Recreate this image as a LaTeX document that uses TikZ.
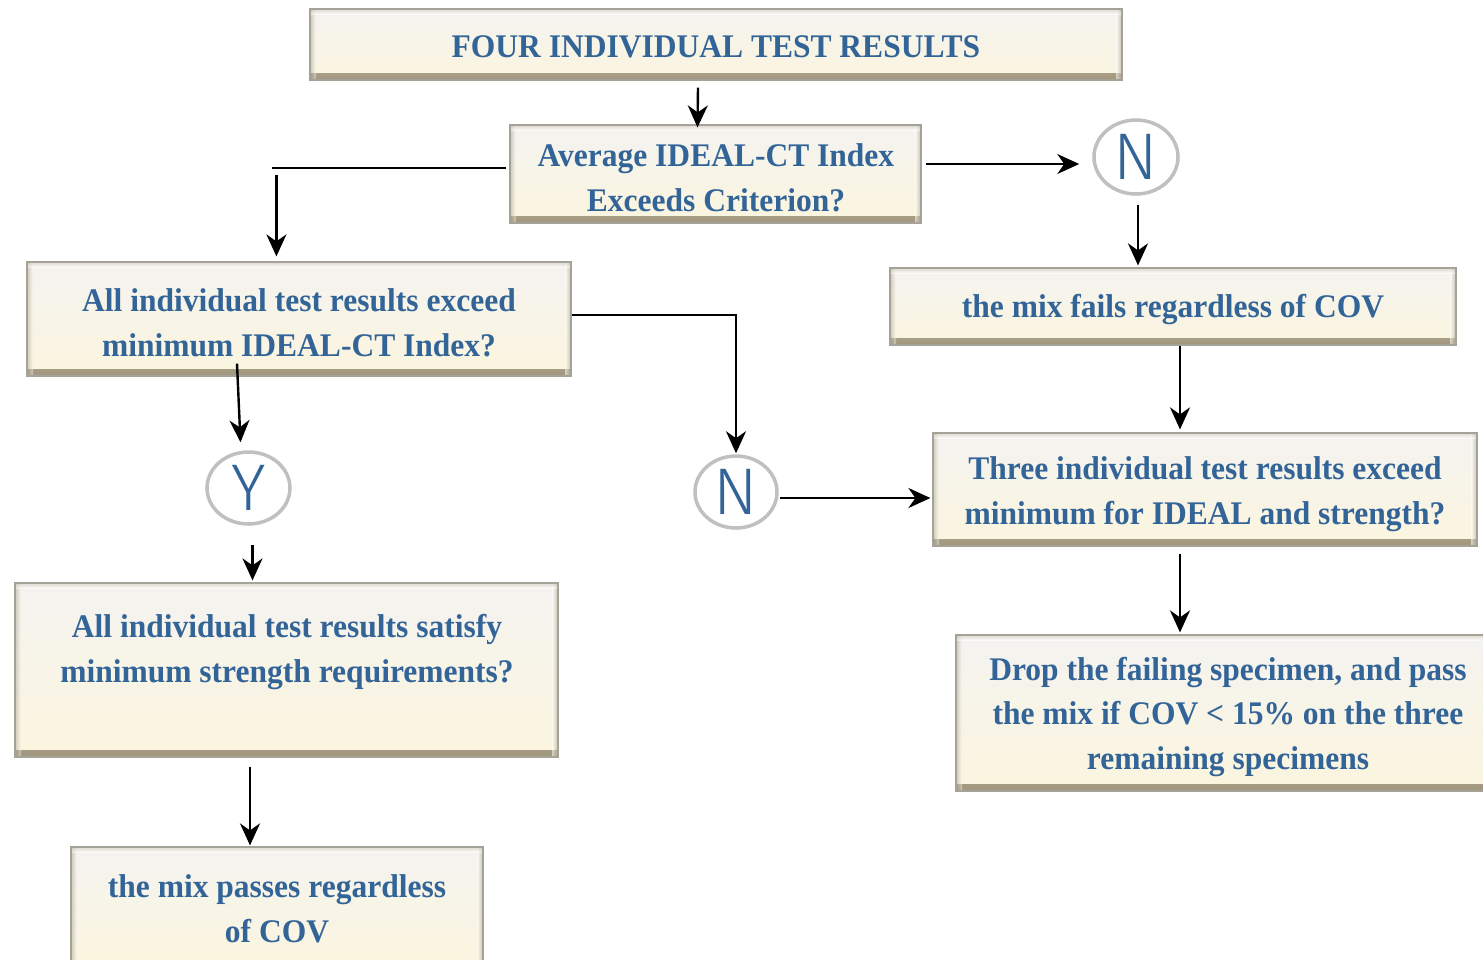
\documentclass[tikz,border=0pt]{standalone}
\usepackage{fontspec}
\setmainfont[FakeStretch=0.955]{Liberation Serif}
\newfontfamily\circfont{Fira Sans Light}
\usetikzlibrary{shapes.geometric,arrows.meta,calc}
\definecolor{txtblue}{RGB}{50,100,152}
\definecolor{cream}{RGB}{251,245,222}
\definecolor{topgray}{RGB}{244,243,240}
\definecolor{bevel}{RGB}{160,150,125}
\definecolor{edge}{RGB}{165,162,152}
\definecolor{ringgray}{RGB}{192,192,192}
\tikzset{
  boxtext/.style={align=center, text=txtblue, font=\bfseries\fontsize{33}{44.5}\selectfont, inner sep=0pt},
  box/.style={rectangle, draw=edge, line width=1.2pt, top color=topgray, bottom color=cream, inner sep=0pt,
    path picture={
      \shade[top color=cream, bottom color=bevel] ([yshift=7pt]path picture bounding box.south west) rectangle (path picture bounding box.south east);
      \shade[left color=white, right color=bevel, opacity=0.55] ([xshift=-6pt]path picture bounding box.north east) rectangle (path picture bounding box.south east);
      \shade[left color=bevel, right color=white, opacity=0.45] (path picture bounding box.north west) rectangle ([xshift=6pt]path picture bounding box.south west);
      \shade[top color=bevel!60, bottom color=white, opacity=0.5] (path picture bounding box.north west) rectangle ([yshift=-5pt]path picture bounding box.north east);
    }},
  ring/.style={ellipse, draw=ringgray, line width=3.5pt, fill=white, inner sep=0pt, text=txtblue,
    font=\circfont\fontsize{66}{66}\selectfont},
  conn/.style={line width=2.4pt, black},
  arr/.style={conn, -{Stealth[length=22pt,width=20pt,inset=7pt]}}
}
\begin{document}
\begin{tikzpicture}[x=1pt,y=-1pt]
\useasboundingbox (0,0) rectangle (1483,959);
\clip (0,0) rectangle (1483,959);
\fill[white] (0,0) rectangle (1483,959);

\node[box, minimum width=812pt, minimum height=71pt] (top) at (716,44.5) {};
\node[boxtext] (ttop) at (716,47) {FOUR INDIVIDUAL TEST RESULTS};
\node[box, minimum width=411pt, minimum height=98pt] (avg) at (715.5,174) {};
\node[boxtext] (tavg) at (716,178) {Average IDEAL-CT Index\\Exceeds Criterion?};
\node[box, minimum width=544pt, minimum height=114pt] (allexc) at (299,319) {};
\node[boxtext] (tallexc) at (299,323) {All individual test results exceed\\minimum IDEAL-CT Index?};
\node[ring, minimum width=84pt, minimum height=74pt] (n1) at (1136,157) {N};
\node[box, minimum width=566pt, minimum height=77pt] (fails) at (1173,306.5) {};
\node[boxtext] (tfails) at (1173,310) {the mix fails regardless of COV};
\node[box, minimum width=544pt, minimum height=113pt] (three) at (1205,489.5) {};
\node[boxtext] (tthree) at (1205,494) {Three individual test results exceed\\minimum for IDEAL and strength?};
\node[box, minimum width=544pt, minimum height=156pt] (drop) at (1228,713) {};
\node[boxtext] (tdrop) at (1228,717) {Drop the failing specimen, and pass\\the mix if COV < 15\% on the three\\remaining specimens};
\node[ring, minimum width=83pt, minimum height=72pt] (y1) at (248.5,488) {Y};
\node[ring, minimum width=82pt, minimum height=72pt] (n2) at (736,492) {N};
\node[box, minimum width=543pt, minimum height=174pt] (sat) at (286.5,670) {};
\node[boxtext] (tsat) at (287,652) {All individual test results satisfy\\minimum strength requirements?};
\node[box, minimum width=412pt, minimum height=120pt] (passes) at (277,907) {};
\node[boxtext] (tpasses) at (277,909) {the mix passes regardless\\of COV};

% connectors
\draw[arr] ([shift={(-18,7)}]top.south) -- ([shift={(-18,3)}]avg.north);
\draw[conn] ([shift={(-3,-6)}]avg.west) -- ++(-234,0) coordinate (c1);
\coordinate (c2) at ([shift={(4,7)}]c1);
\draw[arr, shorten >=5pt] (c2) -- (c2 |- allexc.north);
\coordinate (c3) at ([shift={(4,-10)}]avg.east);
\draw[arr, shorten >=13pt] (c3) -- (c3 -| n1.west);
\coordinate (c4) at ([shift={(2,9)}]n1.south);
\draw[arr, shorten >=2pt] (c4) -- (c4 |- fails.north);
\coordinate (c5) at ([shift={(7,0)}]fails.south);
\draw[arr, shorten >=3pt] (c5) -- (c5 |- three.north);
\draw[arr, shorten >=1pt] ([shift={(0,-4)}]allexc.east) -| (n2.north);
\draw[arr] ([shift={(-62,-13)}]allexc.south) -- ([shift={(-8,-8)}]y1.north);
\coordinate (c6) at ([shift={(4,19)}]y1.south);
\draw[arr, shorten >=2pt] (c6) -- (c6 |- sat.north);
\coordinate (c7) at ([shift={(1,6)}]n2.east);
\draw[arr, shorten >=2pt] (c7) -- (c7 -| three.west);
\coordinate (c8) at ([shift={(-25,7)}]three.south);
\draw[arr, shorten >=2pt] (c8) -- (c8 |- drop.north);
\coordinate (c9) at ([shift={(-36.5,9)}]sat.south);
\draw[arr, shorten >=1pt] (c9) -- (c9 |- passes.north);
\end{tikzpicture}
\end{document}
